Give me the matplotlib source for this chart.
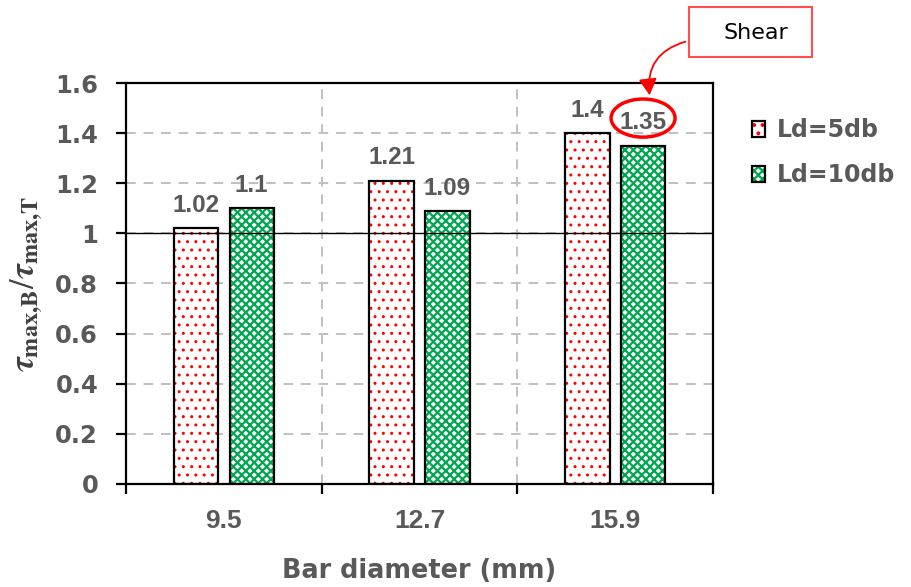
import numpy as np
import matplotlib
matplotlib.use("Agg")
import matplotlib.pyplot as plt
from matplotlib.patches import Ellipse, Rectangle
from matplotlib.legend_handler import HandlerTuple
from matplotlib.ticker import FixedLocator, NullFormatter

# ---- data ----
categories = ["9.5", "12.7", "15.9"]
ld5 = [1.02, 1.21, 1.40]
ld10 = [1.10, 1.09, 1.35]
series_names = ["Ld=5db", "Ld=10db"]
y_ticks = [0, 0.2, 0.4, 0.6, 0.8, 1, 1.2, 1.4, 1.6]
y_tick_labels = ["0", "0.2", "0.4", "0.6", "0.8", "1", "1.2", "1.4", "1.6"]

plt.rcParams["font.family"] = ["Liberation Sans", "DejaVu Sans"]
plt.rcParams["mathtext.fontset"] = "stix"

GRAY = "#595959"
RED = "#FF0000"
GREEN = "#00A650"
WIDE = ["DejaVu Sans"]

fig = plt.figure(figsize=(9.11, 5.87), dpi=100)
ax = fig.add_axes([0.1383, 0.1755, 0.6444, 0.6831])

x = np.arange(len(categories))
w = 0.227
off = 0.1425

def hatched_bars(xpos, vals, hatch, hcolor, hlw):
    plt.rcParams["hatch.linewidth"] = hlw
    fill = ax.bar(xpos, vals, w, color="white", edgecolor=hcolor, hatch=hatch,
                  linewidth=0, zorder=2)
    for p in fill:
        p._hatch_linewidth = hlw
    edge = ax.bar(xpos, vals, w, fill=False, edgecolor="black", linewidth=1.6,
                  zorder=3)
    return fill, edge

f1, e1 = hatched_bars(x - off, ld5, "..", RED, 1.0)
f2, e2 = hatched_bars(x + off, ld10, "xxxx", GREEN, 1.6)

# value labels
for xs, vals in ((x - off, ld5), (x + off, ld10)):
    for xi, v in zip(xs, vals):
        ax.text(xi, v + 0.045, f"{v:g}", ha="center", va="bottom",
                fontsize=17.5, fontweight="bold", color=GRAY, zorder=5)

# reference line at 1
ax.axhline(1.0, color="black", linewidth=1.0, zorder=4)

ax.set_xlim(-0.5, len(categories) - 0.5)
ax.set_ylim(0, 1.6)
ax.set_yticks(y_ticks)
ax.set_yticklabels(y_tick_labels)

# category boundaries carry tick marks, centres carry labels
ax.xaxis.set_major_locator(FixedLocator(np.arange(-0.5, len(categories), 1.0)))
ax.xaxis.set_major_formatter(NullFormatter())
ax.xaxis.set_minor_locator(FixedLocator(x))
ax.set_xticklabels(categories, minor=True)
ax.tick_params(axis="x", which="minor", length=0, pad=18)
ax.tick_params(axis="x", which="major", length=7, width=1.6, direction="out")
ax.tick_params(axis="y", length=7, width=1.6, direction="out", pad=13)
for lab in ax.get_xticklabels(minor=True):
    lab.set_fontsize(19)
    lab.set_fontweight("bold")
    lab.set_color(GRAY)
for lab in ax.get_yticklabels():
    lab.set_family(WIDE)
    lab.set_fontsize(17.5)
    lab.set_fontweight("bold")
    lab.set_color(GRAY)

ax.grid(True, axis="y", color="#C0C0C0", linestyle=(0, (5, 4)), linewidth=1.4, zorder=0)
ax.grid(True, axis="x", which="major", color="#C0C0C0", linestyle=(0, (5, 4)),
        linewidth=1.4, zorder=0)
ax.set_axisbelow(True)
for s in ax.spines.values():
    s.set_linewidth(1.6)
    s.set_color("black")

ax.set_xlabel("Bar diameter (mm)", family=WIDE, fontsize=18.4, fontweight="bold",
              color=GRAY, labelpad=18)
ax.set_ylabel(r"$\boldsymbol{\tau}_{\mathbf{max{,}B}}/\boldsymbol{\tau}_{\mathbf{max{,}T}}$",
              fontsize=25, color="#404040", labelpad=7)

# highlight of the 1.35 value
ax.add_patch(Ellipse((2 + off, 1.46), 0.327, 0.152, fill=False, edgecolor=RED,
                     linewidth=2.5, zorder=6, clip_on=False))

# callout box
fig.patches.append(Rectangle((689, 587 - 57), 123, 50, transform=None,
                             fill=False, edgecolor="#FF5050", linewidth=1.5))
fig.text(756 / 911, 1 - 33 / 587, "Shear", family=WIDE, ha="center", va="center",
         fontsize=16, color="black")
ax.annotate("", xy=(650, 587 - 98), xycoords="figure pixels",
            xytext=(688, 587 - 41), textcoords="figure pixels",
            arrowprops=dict(arrowstyle="-|>,head_length=1.0,head_width=0.55",
                            color=RED, linewidth=1.3,
                            connectionstyle="arc3,rad=0.45"))

leg = fig.legend([(f1[0], e1[0]), (f2[0], e2[0])], series_names,
                 handler_map={tuple: HandlerTuple(ndivide=1, pad=0)},
                 loc="upper left", bbox_to_anchor=(731 / 911, 1 - 97 / 587),
                 frameon=False, handlelength=0.55,
                 handleheight=0.65, handletextpad=0.5, labelspacing=0.88,
                 prop={"family": WIDE, "weight": "bold", "size": 17})
for t in leg.get_texts():
    t.set_color(GRAY)

fig.savefig("out.png", dpi=100)
